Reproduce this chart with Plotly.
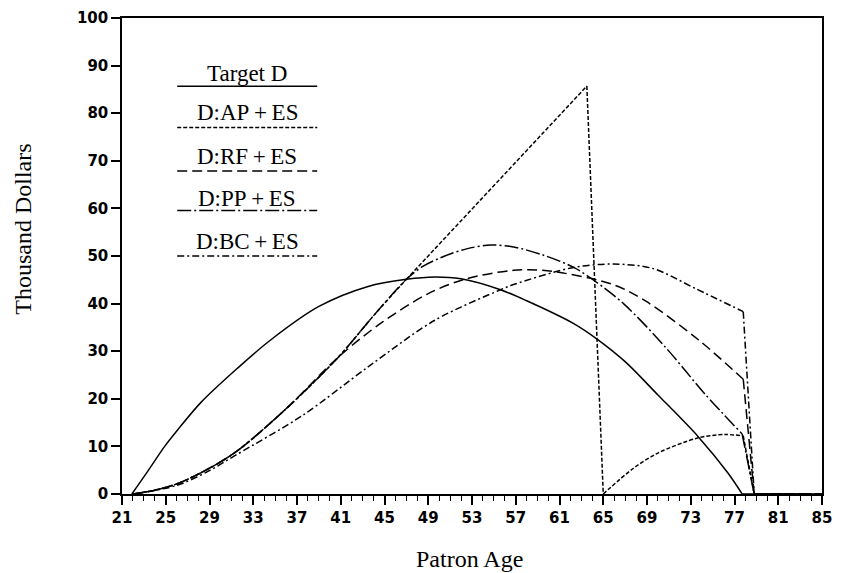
import plotly.graph_objects as go

# ---------------- data ----------------
target_age = [21.9, 23.3, 24.9, 26.1, 28.2, 31.5, 34.5, 39.0, 43.5, 47.0, 49.6, 52.0,
              55.6, 58.0, 62.3, 64.4, 67.0, 70.0, 73.7, 76.4, 77.7, 85.0]
target_val = [0, 4.6, 10.0, 13.5, 19.2, 26.3, 32.2, 39.4, 43.6, 45.1, 45.6, 45.2,
              42.9, 40.6, 35.8, 32.6, 27.8, 20.8, 12.0, 4.4, 0, 0]

ap_age = [22.0, 24.0, 26.1, 28.9, 31.5, 36.0, 40.8, 44.2, 47.0, 63.5, 65.0,
          67.7, 70.0, 73.7, 76.1, 77.8, 78.8, 85.0]
ap_val = [0, 0.8, 2.2, 5.3, 9.0, 17.9, 28.8, 38.0, 45.1, 85.7, 0,
          5.3, 8.6, 11.8, 12.5, 12.2, 0, 0]

rf_age = [22.0, 24.0, 26.1, 28.9, 31.5, 36.0, 40.8, 44.8, 49.0, 52.3, 56.8, 59.9,
          65.9, 68.9, 73.7, 77.8, 78.8, 85.0]
rf_val = [0, 0.8, 2.2, 5.3, 9.0, 17.9, 28.8, 36.1, 42.1, 45.1, 47.0, 46.9,
          44.0, 40.5, 32.4, 24.1, 0, 0]

pp_age = [22.0, 24.0, 26.1, 28.9, 31.5, 36.0, 40.8, 44.2, 47.0, 48.5, 50.3, 52.5,
          54.7, 56.8, 59.5, 62.3, 64.2, 66.9, 70.7, 74.3, 77.7, 78.8, 85.0]
pp_val = [0, 0.8, 2.2, 5.3, 9.0, 17.9, 28.8, 38.0, 45.1, 47.8, 49.8, 51.5,
          52.3, 51.9, 50.2, 47.6, 44.8, 39.9, 30.8, 21.0, 12.6, 0, 0]

bc_age = [22.0, 26.0, 28.9, 31.5, 37.5, 43.5, 49.6, 55.6, 56.8, 62.3, 65.9,
          69.5, 73.4, 77.8, 78.8, 85.0]
bc_val = [0, 1.8, 4.8, 8.3, 16.5, 26.7, 36.5, 42.9, 44.0, 47.6, 48.3,
          47.4, 43.2, 38.3, 0, 0]

series_names = ["Target D", "D:AP\u2009+\u2009ES", "D:RF\u2009+\u2009ES",
                "D:PP\u2009+\u2009ES", "D:BC\u2009+\u2009ES"]
x_ticks = list(range(21, 86, 4))
y_ticks = list(range(0, 101, 10))

# ages where a curve has a sharp corner (smooth pieces are split there)
corner_ages = [
    [77.7],                           # Target D
    [47.0, 63.5, 65.0, 77.8, 78.8],   # AP
    [77.8, 78.8],                     # RF
    [77.7, 78.8],                     # PP
    [77.8, 78.8],                     # BC
]

# ---------------- styling ----------------
W, H = 841, 573
L, R, T, B = 122, 9, 12, 79
dashes = ["solid", "4px,2px", "10px,5px", "14px,3px,2px,3px", "7px,3px,2px,3px"]

fig = go.Figure()
all_ages = [target_age, ap_age, rf_age, pp_age, bc_age]
all_vals = [target_val, ap_val, rf_val, pp_val, bc_val]
for name, ages, vals, dash, corners in zip(series_names, all_ages, all_vals,
                                           dashes, corner_ages):
    cut = [0] + [ages.index(a) for a in corners] + [len(ages) - 1]
    for i0, i1 in zip(cut[:-1], cut[1:]):
        xs, ys = ages[i0:i1 + 1], vals[i0:i1 + 1]
        # smooth pieces have more than two points; straight drops stay linear
        shape = "spline" if len(xs) > 2 else "linear"
        fig.add_trace(go.Scatter(x=xs, y=ys, mode="lines", name=name,
                                 line=dict(color="black", width=1.5, dash=dash,
                                           shape=shape, smoothing=0.9),
                                 showlegend=False, hoverinfo="skip"))

def px2paper(px, py):
    return (px - L) / (W - L - R), (H - B - py) / (H - T - B)

# manual legend (text above a line sample)
leg_text_y = [68, 108, 152, 195, 238]
leg_line_y = [81, 123, 167, 207, 253]
serif = "Liberation Serif"
for name, ty, ly, dash in zip(series_names, leg_text_y, leg_line_y, dashes):
    cx, cy = px2paper(249, ty)
    fig.add_annotation(x=cx, y=cy, xref="paper", yref="paper", text=name,
                       showarrow=False, xanchor="center", yanchor="middle",
                       font=dict(family=serif, size=23, color="black"))
    x0, y0 = px2paper(178, ly)
    x1, _ = px2paper(320, ly)
    fig.add_shape(type="line", xref="paper", yref="paper", x0=x0, x1=x1, y0=y0, y1=y0,
                  line=dict(color="black", width=1.5, dash=dash))

# axis titles
ax, ay = px2paper(22, 226)
fig.add_annotation(x=ax, y=ay, xref="paper", yref="paper", text="Thousand Dollars",
                   showarrow=False, textangle=-90, xanchor="center", yanchor="middle",
                   font=dict(family=serif, size=24, color="black"))
bx, by = px2paper(474, 560)
fig.add_annotation(x=bx, y=by, xref="paper", yref="paper", text="Patron Age",
                   showarrow=False, xanchor="center", yanchor="middle",
                   font=dict(family=serif, size=24, color="black"))

tickfont = dict(family="DejaVu Sans", size=15, color="black", weight=700)
fig.update_xaxes(range=[21, 85], tickvals=x_ticks, ticks="outside", ticklen=9,
                 tickwidth=1.5, tickcolor="black", showline=True, linecolor="black",
                 linewidth=1.5, mirror=True, showgrid=False, zeroline=False,
                 tickfont=tickfont,
                 minor=dict(dtick=1, tick0=21, ticks="outside", ticklen=5,
                            tickwidth=1.2, tickcolor="black", showgrid=False))
fig.update_yaxes(range=[0, 100], tickvals=y_ticks, ticks="outside", ticklen=9,
                 tickwidth=1.5, tickcolor="black", showline=True, linecolor="black",
                 linewidth=1.5, mirror=True, showgrid=False, zeroline=False,
                 tickfont=tickfont)
fig.update_layout(width=W, height=H, margin=dict(l=L, r=R, t=T, b=B),
                  paper_bgcolor="white", plot_bgcolor="white")

fig.write_html("out.html")
